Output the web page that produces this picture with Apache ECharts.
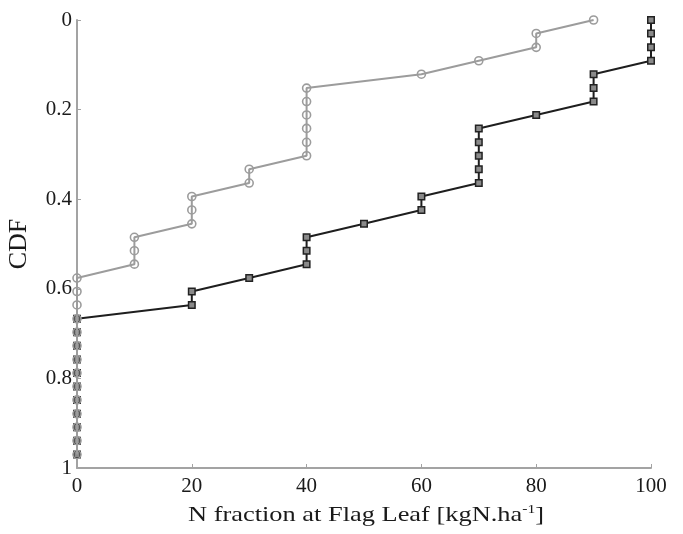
<!DOCTYPE html>
<html>
<head>
<meta charset="utf-8">
<script src="https://cdn.jsdelivr.net/npm/echarts@6/dist/echarts.min.js"></script>
<style>
  html, body { margin: 0; padding: 0; background: #fff; }
  #chart { width: 683px; height: 534px; }
</style>
</head>
<body>
<div id="chart"></div>
<script>
// Empirical CDF steps (x: N fraction, y: CDF position on the reversed axis)
var lightX = [90, 80, 80, 70, 60, 40, 40, 40, 40, 40, 40, 30, 30, 20, 20, 20, 10, 10, 10,
              0, 0, 0, 0, 0, 0, 0, 0, 0, 0, 0, 0, 0, 0];
var lightY = [0, 0.030, 0.061, 0.091, 0.121, 0.152, 0.182, 0.212, 0.242, 0.273, 0.303,
              0.333, 0.364, 0.394, 0.424, 0.455, 0.485, 0.515, 0.545,
              0.576, 0.606, 0.636, 0.667, 0.697, 0.727, 0.758, 0.788, 0.818, 0.848,
              0.879, 0.909, 0.939, 0.970];

var darkX = [100, 100, 100, 100, 90, 90, 90, 80, 70, 70, 70, 70, 70, 60, 60, 50, 40, 40, 40,
             30, 20, 20, 0, 0, 0, 0, 0, 0, 0, 0, 0, 0, 0];
var darkY = [0, 0.030, 0.061, 0.091, 0.121, 0.152, 0.182, 0.212, 0.242, 0.273, 0.303,
             0.333, 0.364, 0.394, 0.424, 0.455, 0.485, 0.515, 0.545,
             0.576, 0.606, 0.636, 0.667, 0.697, 0.727, 0.758, 0.788, 0.818, 0.848,
             0.879, 0.909, 0.939, 0.970];

var xTicks = [0, 20, 40, 60, 80, 100];
var yTicks = [0, 0.2, 0.4, 0.6, 0.8, 1];

var xTitle = 'N fraction at Flag Leaf [kgN.ha{sup|-1}]';
var yTitle = 'CDF';

function pairs(xs, ys) {
  return xs.map(function (x, i) { return [x, ys[i]]; });
}

var serif = "'Liberation Serif', 'Times New Roman', serif";
var axisGrey = '#a3a3a3';
var ink = '#1a1a1a';

var chart = echarts.init(document.getElementById('chart'), null, { renderer: 'canvas' });
chart.setOption({
  animation: false,
  backgroundColor: '#fff',
  grid: { left: 77, right: 32, top: 20, bottom: 66, containLabel: false, outerBoundsMode: 'none' },
  xAxis: {
    type: 'value',
    position: 'bottom',
    min: xTicks[0],
    max: xTicks[xTicks.length - 1],
    interval: 20,
    axisLine: { show: true, onZero: false, lineStyle: { color: axisGrey, width: 2 } },
    axisTick: { show: true, inside: true, length: 4, lineStyle: { color: axisGrey, width: 1 } },
    axisLabel: { fontFamily: serif, fontSize: 21, color: ink, margin: 8 },
    splitLine: { show: false }
  },
  yAxis: {
    type: 'value',
    inverse: true,
    min: yTicks[0],
    max: yTicks[yTicks.length - 1],
    interval: 0.2,
    name: yTitle,
    nameLocation: 'middle',
    nameGap: 45,
    nameRotate: 90,
    nameTextStyle: { fontFamily: serif, fontSize: 26, color: ink },
    axisLine: { show: true, onZero: false, lineStyle: { color: axisGrey, width: 2 } },
    axisTick: { show: true, inside: true, length: 4, lineStyle: { color: axisGrey, width: 1 } },
    axisLabel: { fontFamily: serif, fontSize: 21, color: ink, margin: 5 },
    splitLine: { show: false }
  },
  // x-axis title, set slightly wide as in the original figure export
  graphic: [{
    type: 'text',
    x: 366,
    y: 515,
    scaleX: 1.2,
    style: {
      text: xTitle,
      fontFamily: serif,
      fontSize: 22,
      fill: ink,
      align: 'center',
      verticalAlign: 'middle',
      rich: {
        sup: { fontFamily: serif, fontSize: 13, fill: ink, verticalAlign: 'top', padding: [0, 0, 10, 0] }
      }
    }
  }],
  series: [
    {
      type: 'line',
      data: pairs(darkX, darkY),
      symbol: 'rect',
      symbolSize: 6.5,
      lineStyle: { color: '#1e1e1e', width: 2 },
      itemStyle: { color: '#8a8a8a', borderColor: '#222', borderWidth: 1.5 },
      z: 2
    },
    {
      type: 'line',
      data: pairs(lightX, lightY),
      symbol: 'circle',
      symbolSize: 8,
      lineStyle: { color: '#9c9c9c', width: 2 },
      itemStyle: { color: 'rgba(255,255,255,0)', borderColor: '#9c9c9c', borderWidth: 1.6 },
      z: 3
    }
  ]
});
</script>
</body>
</html>
